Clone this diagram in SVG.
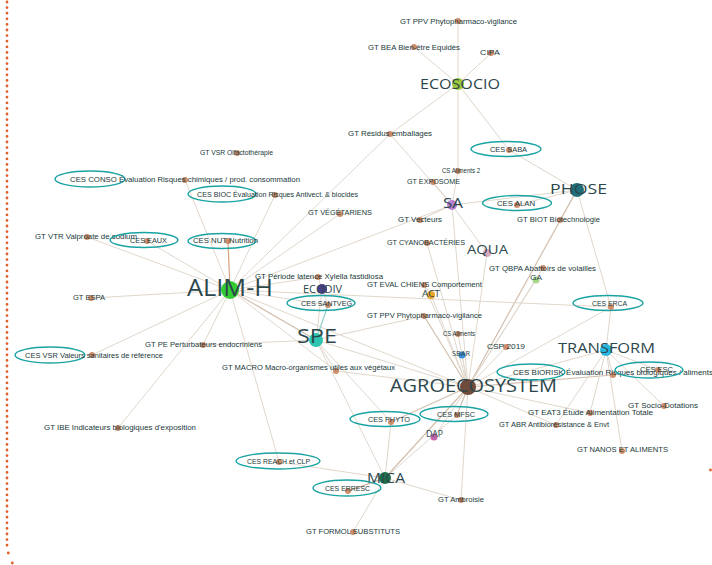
<svg xmlns="http://www.w3.org/2000/svg" width="712" height="565" viewBox="0 0 712 565">
<defs>
<style>
.e{stroke:#e0d7cc;stroke-width:1;fill:none}
.ed{stroke:#d2bfae;stroke-width:1.2;fill:none}
.dot{fill:#c9825c;fill-opacity:0.9}
.s{font-family:"Liberation Sans",Arial,sans-serif;font-size:7.5px;fill:#22393a;text-anchor:middle}
.h{font-family:"Open Sans","Noto Sans",sans-serif;fill:#2c474c;text-anchor:middle}
.ring{fill:none;stroke:#1aa3a3;stroke-width:1.4}
.brd{fill:#e0602a}
</style>
</defs>
<rect width="712" height="565" fill="#ffffff"/>
<g id="border">
<line x1="7" y1="2" x2="7" y2="550" stroke="#e0602a" stroke-width="2.8" stroke-linecap="round" stroke-dasharray="0 5.6"/>
<circle class="brd" cx="8.3" cy="553" r="1.4"/>
<circle class="brd" cx="12.3" cy="563" r="1.4"/>
<circle class="brd" cx="710.5" cy="470" r="1.4"/>
</g>
<g id="edges">
<line class="e" x1="458" y1="84" x2="458" y2="21"/>
<line class="e" x1="458" y1="84" x2="414" y2="47"/>
<line class="e" x1="458" y1="84" x2="491" y2="53"/>
<line class="e" x1="458" y1="84" x2="390" y2="134"/>
<line class="e" x1="458" y1="84" x2="509" y2="150"/>
<line class="e" x1="458" y1="84" x2="458" y2="171"/>
<line class="e" x1="458" y1="171" x2="452" y2="205"/>
<line class="e" x1="390" y1="134" x2="230" y2="290"/>
<line class="e" x1="390" y1="134" x2="452" y2="205"/>
<line class="e" x1="577" y1="190" x2="509" y2="150"/>
<line class="e" x1="577" y1="190" x2="517" y2="205"/>
<line class="e" x1="577" y1="190" x2="560" y2="220"/>
<line class="e" x1="577" y1="190" x2="611" y2="307"/>
<line class="e" x1="577" y1="190" x2="452" y2="205"/>
<line class="ed" x1="577" y1="190" x2="468" y2="387"/>
<line class="e" x1="452" y1="205" x2="433" y2="182"/>
<line class="e" x1="452" y1="205" x2="420" y2="220"/>
<line class="e" x1="452" y1="205" x2="230" y2="290"/>
<line class="e" x1="452" y1="205" x2="468" y2="387"/>
<line class="e" x1="487" y1="253" x2="468" y2="387"/>
<line class="e" x1="487" y1="253" x2="452" y2="205"/>
<line class="e" x1="536" y1="280" x2="468" y2="387"/>
<line class="e" x1="543" y1="268" x2="468" y2="387"/>
<line class="e" x1="230" y1="290" x2="185" y2="180"/>
<line class="e" x1="230" y1="290" x2="275" y2="195"/>
<line class="ed" x1="230" y1="290" x2="228" y2="241" style="stroke:#d9a27c"/>
<line class="e" x1="230" y1="290" x2="147" y2="241"/>
<line class="e" x1="230" y1="290" x2="87" y2="237"/>
<line class="e" x1="230" y1="290" x2="91" y2="298"/>
<line class="e" x1="230" y1="290" x2="92" y2="355"/>
<line class="e" x1="230" y1="290" x2="203" y2="345"/>
<line class="e" x1="230" y1="290" x2="118" y2="428"/>
<line class="e" x1="230" y1="290" x2="279" y2="462"/>
<line class="ed" x1="230" y1="290" x2="316" y2="340"/>
<line class="e" x1="230" y1="290" x2="328" y2="305"/>
<line class="e" x1="230" y1="290" x2="318" y2="277"/>
<line class="e" x1="230" y1="290" x2="340" y2="214"/>
<line class="e" x1="230" y1="290" x2="611" y2="307"/>
<line class="e" x1="230" y1="290" x2="336" y2="371"/>
<line class="e" x1="230" y1="290" x2="468" y2="387"/>
<line class="ed" x1="316" y1="340" x2="328" y2="305" style="stroke:#8fd3c8"/>
<line class="e" x1="316" y1="340" x2="336" y2="371"/>
<line class="e" x1="316" y1="340" x2="424" y2="316"/>
<line class="e" x1="316" y1="340" x2="385" y2="478"/>
<line class="e" x1="316" y1="340" x2="391" y2="422"/>
<line class="e" x1="316" y1="340" x2="322" y2="289"/>
<line class="e" x1="316" y1="340" x2="468" y2="387"/>
<line class="e" x1="316" y1="340" x2="203" y2="345"/>
<line class="e" x1="322" y1="289" x2="318" y2="277"/>
<line class="e" x1="322" y1="289" x2="328" y2="305"/>
<line class="e" x1="431" y1="295" x2="424" y2="285"/>
<line class="e" x1="431" y1="295" x2="468" y2="387"/>
<line class="ed" x1="468" y1="387" x2="424" y2="316"/>
<line class="e" x1="468" y1="387" x2="424" y2="285"/>
<line class="e" x1="468" y1="387" x2="458" y2="334"/>
<line class="e" x1="468" y1="387" x2="462" y2="355"/>
<line class="e" x1="468" y1="387" x2="506" y2="347"/>
<line class="ed" x1="468" y1="387" x2="613" y2="375"/>
<line class="e" x1="468" y1="387" x2="606" y2="350"/>
<line class="e" x1="468" y1="387" x2="590" y2="413"/>
<line class="e" x1="468" y1="387" x2="556" y2="425"/>
<line class="ed" x1="468" y1="387" x2="457" y2="415"/>
<line class="ed" x1="468" y1="387" x2="391" y2="422"/>
<line class="e" x1="468" y1="387" x2="434" y2="437"/>
<line class="e" x1="468" y1="387" x2="461" y2="500"/>
<line class="ed" x1="468" y1="387" x2="385" y2="478"/>
<line class="e" x1="468" y1="387" x2="611" y2="307"/>
<line class="e" x1="468" y1="387" x2="427" y2="243"/>
<line class="e" x1="468" y1="387" x2="336" y2="371"/>
<line class="e" x1="606" y1="350" x2="611" y2="307"/>
<line class="e" x1="606" y1="350" x2="613" y2="375"/>
<line class="e" x1="606" y1="350" x2="658" y2="370"/>
<line class="e" x1="606" y1="350" x2="590" y2="413"/>
<line class="e" x1="606" y1="350" x2="664" y2="406"/>
<line class="e" x1="606" y1="350" x2="622" y2="451"/>
<line class="e" x1="606" y1="350" x2="556" y2="425"/>
<line class="e" x1="385" y1="478" x2="391" y2="422"/>
<line class="e" x1="385" y1="478" x2="279" y2="462"/>
<line class="ed" x1="385" y1="478" x2="348" y2="491" style="stroke:#c9a48a"/>
<line class="e" x1="385" y1="478" x2="353" y2="532"/>
<line class="e" x1="385" y1="478" x2="457" y2="415"/>
<line class="e" x1="385" y1="478" x2="461" y2="500"/>
</g>
<g id="n-ecosocio"><circle cx="458" cy="84" r="6" fill="#9bc53d"/><text class="h" x="460" y="88.5" font-size="15" textLength="80" lengthAdjust="spacingAndGlyphs">ECOSOCIO</text></g>
<g id="n-phose"><circle cx="577" cy="190" r="7" fill="#1f6e7a"/><text class="h" x="578.5" y="193.5" font-size="15" textLength="57" lengthAdjust="spacingAndGlyphs">PHOSE</text></g>
<g id="n-sa"><circle cx="452" cy="205" r="5" fill="#b77fd0"/><text class="h" x="453" y="207.5" font-size="15" textLength="20" lengthAdjust="spacingAndGlyphs">SA</text></g>
<g id="n-aqua"><circle cx="487" cy="253" r="4" fill="#d9a9bf"/><text class="h" x="487.5" y="254" font-size="13.5" textLength="41" lengthAdjust="spacingAndGlyphs">AQUA</text></g>
<g id="n-alimh"><circle cx="230" cy="290" r="9" fill="#33cc33"/><text class="h" x="230" y="295.5" font-size="23" textLength="86" lengthAdjust="spacingAndGlyphs">ALIM-H</text></g>
<g id="n-ecodiv"><circle cx="322" cy="289" r="5" fill="#4a3f8a"/><text class="h" x="322.5" y="292.5" font-size="10" textLength="39" lengthAdjust="spacingAndGlyphs">ECODIV</text></g>
<g id="n-spe"><circle cx="316" cy="340" r="7" fill="#2dc4b0"/><text class="h" x="317" y="343" font-size="19.5" textLength="40" lengthAdjust="spacingAndGlyphs">SPE</text></g>
<g id="n-act"><circle cx="431" cy="295" r="4" fill="#e8a52a"/><text class="h" x="431" y="296.5" font-size="9.5" textLength="18" lengthAdjust="spacingAndGlyphs">ACT</text></g>
<g id="n-agroecosystem"><circle cx="468" cy="387" r="8" fill="#6e4b3a"/><text class="h" x="473.5" y="391.5" font-size="18" textLength="167" lengthAdjust="spacingAndGlyphs">AGROECOSYSTEM</text></g>
<g id="n-transform"><circle cx="606" cy="350" r="6" fill="#29b6e0"/><text class="h" x="606.5" y="352.5" font-size="15" textLength="97" lengthAdjust="spacingAndGlyphs">TRANSFORM</text></g>
<g id="n-mica"><circle cx="385" cy="478" r="6" fill="#1c6e4a"/><text class="h" x="386" y="482.5" font-size="15" textLength="38" lengthAdjust="spacingAndGlyphs">MICA</text></g>
<g id="n-dap"><circle cx="434" cy="437" r="3.5" fill="#c065a8"/><text class="h" x="434.5" y="436.5" font-size="9.5" textLength="17" lengthAdjust="spacingAndGlyphs">DAP</text></g>
<g id="n-sbar"><circle cx="462" cy="355" r="3.5" fill="#3a8fd6"/><text class="h" x="461" y="356" font-size="8" textLength="18" lengthAdjust="spacingAndGlyphs">SBAR</text></g>
<g id="n-ga"><circle cx="536" cy="280" r="3.5" fill="#a8d68a"/><text class="h" x="536" y="279.5" font-size="7.5" textLength="12" lengthAdjust="spacingAndGlyphs">GA</text></g>

<g id="n-ppv1"><circle class="dot" cx="458" cy="21" r="3"/><text class="s" x="458.5" y="23.5" textLength="117" lengthAdjust="spacingAndGlyphs">GT PPV Phytopharmaco-vigilance</text></g>
<g id="n-bea"><circle class="dot" cx="414" cy="47" r="3"/><text class="s" x="414" y="49.5" textLength="92" lengthAdjust="spacingAndGlyphs">GT BEA Bien-être Equidés</text></g>
<g id="n-cipa"><circle class="dot" cx="491" cy="53" r="3"/><text class="s" x="490" y="54.5" textLength="20" lengthAdjust="spacingAndGlyphs">CIPA</text></g>
<g id="n-residus"><circle class="dot" cx="390" cy="134" r="3"/><text class="s" x="390" y="135.5" textLength="84" lengthAdjust="spacingAndGlyphs">GT Résidus emballages</text></g>
<g id="n-saba"><ellipse class="ring" cx="506" cy="149" rx="35" ry="7.5"/><circle class="dot" cx="509" cy="150" r="3"/><text class="s" x="508.5" y="152" textLength="37" lengthAdjust="spacingAndGlyphs">CES SABA</text></g>
<g id="n-cs2"><circle class="dot" cx="458" cy="171" r="3"/><text class="s" x="461" y="173" textLength="38" lengthAdjust="spacingAndGlyphs">CS Aliments 2</text></g>
<g id="n-exposome"><circle class="dot" cx="433" cy="182" r="3"/><text class="s" x="433.5" y="184" textLength="53" lengthAdjust="spacingAndGlyphs">GT EXPOSOME</text></g>
<g id="n-vsro"><circle class="dot" cx="237" cy="153" r="3"/><text class="s" x="236.5" y="155" textLength="73" lengthAdjust="spacingAndGlyphs">GT VSR Olfactothérapie</text></g>
<g id="n-conso"><ellipse class="ring" cx="90" cy="179" rx="35" ry="8"/><circle class="dot" cx="185" cy="180" r="3"/><text class="s" x="185" y="182" textLength="230" lengthAdjust="spacingAndGlyphs">CES CONSO Évaluation Risques chimiques / prod. consommation</text></g>
<g id="n-bioc"><ellipse class="ring" cx="222" cy="194" rx="34" ry="8"/><circle class="dot" cx="275" cy="195" r="3"/><text class="s" x="277.5" y="196.5" textLength="161" lengthAdjust="spacingAndGlyphs">CES BIOC Évaluation Risques Antivect. &amp; biocides</text></g>
<g id="n-veget"><circle class="dot" cx="340" cy="214" r="3"/><text class="s" x="340" y="214.5" textLength="64" lengthAdjust="spacingAndGlyphs">GT VÉGÉTARIENS</text></g>
<g id="n-vecteurs"><circle class="dot" cx="420" cy="220" r="3"/><text class="s" x="420" y="221.5" textLength="44" lengthAdjust="spacingAndGlyphs">GT Vecteurs</text></g>
<g id="n-alan"><ellipse class="ring" cx="517" cy="203" rx="34.5" ry="7.5"/><circle class="dot" cx="517" cy="205" r="3"/><text class="s" x="516" y="206" textLength="38" lengthAdjust="spacingAndGlyphs">CES ALAN</text></g>
<g id="n-biot"><circle class="dot" cx="560" cy="220" r="3"/><text class="s" x="558.5" y="221.5" textLength="83" lengthAdjust="spacingAndGlyphs">GT BIOT Biotechnologie</text></g>
<g id="n-cyano"><circle class="dot" cx="427" cy="243" r="3"/><text class="s" x="426" y="244.5" textLength="78" lengthAdjust="spacingAndGlyphs">GT CYANOBACTÉRIES</text></g>
<g id="n-vtr"><circle class="dot" cx="87" cy="237" r="3"/><text class="s" x="86" y="238.5" textLength="102" lengthAdjust="spacingAndGlyphs">GT VTR Valproate de sodium</text></g>
<g id="n-eaux"><ellipse class="ring" cx="144" cy="240" rx="34" ry="7.5"/><circle class="dot" cx="147" cy="241" r="3"/><text class="s" x="148.5" y="242.5" textLength="37" lengthAdjust="spacingAndGlyphs">CES EAUX</text></g>
<g id="n-nut"><ellipse class="ring" cx="222" cy="241" rx="34" ry="7.5"/><circle class="dot" cx="228" cy="241" r="3"/><text class="s" x="225.5" y="243" textLength="65" lengthAdjust="spacingAndGlyphs">CES NUT Nutrition</text></g>
<g id="n-espa"><circle class="dot" cx="91" cy="298" r="3"/><text class="s" x="89" y="300" textLength="32" lengthAdjust="spacingAndGlyphs">GT ESPA</text></g>
<g id="n-xylella"><circle class="dot" cx="318" cy="277" r="3"/><text class="s" x="319" y="278.5" textLength="128" lengthAdjust="spacingAndGlyphs">GT Période latence Xylella fastidiosa</text></g>
<g id="n-santveg"><ellipse class="ring" cx="321" cy="303" rx="34" ry="7.5"/><circle class="dot" cx="328" cy="305" r="3"/><text class="s" x="326.5" y="305.5" textLength="51" lengthAdjust="spacingAndGlyphs">CES SANTVEG</text></g>
<g id="n-chiens"><circle class="dot" cx="424" cy="285" r="3"/><text class="s" x="424.5" y="286.5" textLength="115" lengthAdjust="spacingAndGlyphs">GT EVAL CHIENS Comportement</text></g>
<g id="n-ppv2"><circle class="dot" cx="424" cy="316" r="3"/><text class="s" x="424.5" y="317.5" textLength="115" lengthAdjust="spacingAndGlyphs">GT PPV Phytopharmaco-vigilance</text></g>
<g id="n-csalim"><circle class="dot" cx="458" cy="334" r="3"/><text class="s" x="459" y="335.5" textLength="32" lengthAdjust="spacingAndGlyphs">CS Aliments</text></g>
<g id="n-csp"><circle class="dot" cx="506" cy="347" r="3"/><text class="s" x="506" y="349" textLength="38" lengthAdjust="spacingAndGlyphs">CSP 2019</text></g>
<g id="n-vsr"><ellipse class="ring" cx="50" cy="355" rx="35" ry="8"/><circle class="dot" cx="92" cy="355" r="3"/><text class="s" x="94" y="357.5" textLength="138" lengthAdjust="spacingAndGlyphs">CES VSR Valeurs sanitaires de référence</text></g>
<g id="n-pe"><circle class="dot" cx="203" cy="345" r="3"/><text class="s" x="203.5" y="346.5" textLength="117" lengthAdjust="spacingAndGlyphs">GT PE Perturbateurs endocriniens</text></g>
<g id="n-macro"><circle class="dot" cx="336" cy="371" r="3"/><text class="s" x="308.5" y="369.5" textLength="173" lengthAdjust="spacingAndGlyphs">GT MACRO Macro-organismes utiles aux végétaux</text></g>
<g id="n-biorisk"><ellipse class="ring" cx="531" cy="372" rx="34" ry="8"/><circle class="dot" cx="613" cy="375" r="3"/><text class="s" x="613" y="374.5" textLength="200" lengthAdjust="spacingAndGlyphs">CES BIORISK Évaluation Risques biologiques / aliments</text></g>
<g id="n-esc"><ellipse class="ring" cx="649" cy="370" rx="34" ry="8"/><circle class="dot" cx="658" cy="370" r="3"/><text class="s" x="656.5" y="371.5" textLength="33" lengthAdjust="spacingAndGlyphs">CES ESC</text></g>
<g id="n-erca"><ellipse class="ring" cx="608" cy="303" rx="35" ry="7.5"/><circle class="dot" cx="611" cy="307" r="3"/><text class="s" x="609.5" y="306" textLength="35" lengthAdjust="spacingAndGlyphs">CES ERCA</text></g>
<g id="n-qbpa"><circle class="dot" cx="543" cy="268" r="3"/><text class="s" x="542.5" y="270.5" textLength="107" lengthAdjust="spacingAndGlyphs">GT QBPA Abattoirs de volailles</text></g>
<g id="n-phyto"><ellipse class="ring" cx="385" cy="419" rx="35" ry="7.5"/><circle class="dot" cx="391" cy="422" r="3"/><text class="s" x="389" y="422" textLength="42" lengthAdjust="spacingAndGlyphs">CES PHYTO</text></g>
<g id="n-mfsc"><ellipse class="ring" cx="454" cy="414" rx="34" ry="7.5"/><circle class="dot" cx="457" cy="415" r="3"/><text class="s" x="456" y="417" textLength="38" lengthAdjust="spacingAndGlyphs">CES MFSC</text></g>
<g id="n-reach"><ellipse class="ring" cx="278" cy="461" rx="42" ry="8"/><circle class="dot" cx="279" cy="462" r="3"/><text class="s" x="278.5" y="463.5" textLength="63" lengthAdjust="spacingAndGlyphs">CES REACH et CLP</text></g>
<g id="n-mpr"><ellipse class="ring" cx="347" cy="488" rx="34" ry="8"/><circle class="dot" cx="348" cy="491" r="3"/><text class="s" x="347.5" y="491" textLength="45" lengthAdjust="spacingAndGlyphs">CES ERRESC</text></g>
<g id="n-ambroisie"><circle class="dot" cx="461" cy="500" r="3"/><text class="s" x="461" y="501.5" textLength="46" lengthAdjust="spacingAndGlyphs">GT Ambroisie</text></g>
<g id="n-formol"><circle class="dot" cx="353" cy="532" r="3"/><text class="s" x="353" y="533.5" textLength="94" lengthAdjust="spacingAndGlyphs">GT FORMOL SUBSTITUTS</text></g>
<g id="n-ibe"><circle class="dot" cx="118" cy="428" r="3"/><text class="s" x="120" y="430" textLength="152" lengthAdjust="spacingAndGlyphs">GT IBE Indicateurs biologiques d'exposition</text></g>
<g id="n-eat"><circle class="dot" cx="590" cy="413" r="3"/><text class="s" x="590.5" y="415" textLength="125" lengthAdjust="spacingAndGlyphs">GT EAT3 Étude Alimentation Totale</text></g>
<g id="n-abr"><circle class="dot" cx="556" cy="425" r="3"/><text class="s" x="554" y="426.5" textLength="110" lengthAdjust="spacingAndGlyphs">GT ABR Antibiorésistance &amp; Envt</text></g>
<g id="n-socio"><circle class="dot" cx="664" cy="406" r="3"/><text class="s" x="663" y="407.5" textLength="70" lengthAdjust="spacingAndGlyphs">GT Socio-Dotations</text></g>
<g id="n-nanos"><circle class="dot" cx="622" cy="451" r="3"/><text class="s" x="622.5" y="452" textLength="91" lengthAdjust="spacingAndGlyphs">GT NANOS ET ALIMENTS</text></g>
</svg>
